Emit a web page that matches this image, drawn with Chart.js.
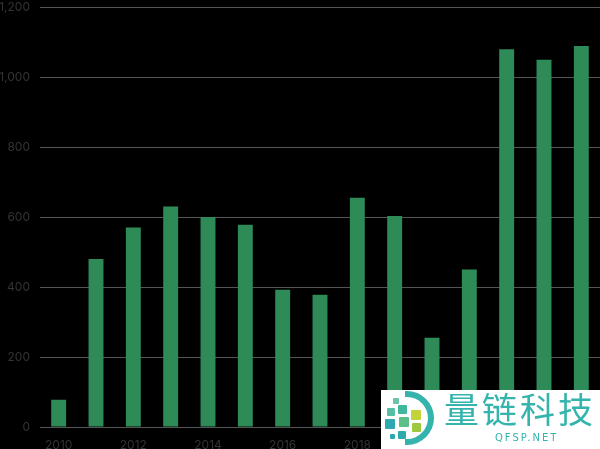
<!DOCTYPE html>
<html>
<head>
<meta charset="utf-8">
<script src="https://cdn.jsdelivr.net/npm/chart.js@4"></script>
<style>
  html, body { margin: 0; padding: 0; background: #000; }
  #wrap { position: relative; width: 600px; height: 449px; overflow: hidden; }
  #chart { position: absolute; left: 0; top: -10px; }
  #mark {
    position: absolute; left: 381px; top: 390px; width: 219px; height: 59px;
    background: #fff; font-family: "Noto Sans CJK SC", sans-serif;
  }
  #mark .cn { position: absolute; left: 63px; top: -4px; font-size: 35px; line-height: 44px; color: #34b4ad; letter-spacing: 3px; white-space: nowrap; }
  #mark .en { position: absolute; left: 114px; top: 42px; font-size: 10px; line-height: 12px; color: #34b4ad; letter-spacing: 2px; font-family: "DejaVu Sans", sans-serif; }
  #mark .sq { position: absolute; border-radius: 1px; }
</style>
</head>
<body>
<div id="wrap">
  <canvas id="chart" width="600" height="459"></canvas>
  <div id="mark">
    <div class="sq" style="left:12px;top:8px;width:6px;height:6px;background:#6cc3a8"></div>
    <div class="sq" style="left:6px;top:18px;width:8px;height:8px;background:#55bfa5"></div>
    <div class="sq" style="left:17px;top:15px;width:9px;height:9px;background:#3fb79c"></div>
    <div class="sq" style="left:4px;top:29px;width:10px;height:10px;background:#2fa9b0"></div>
    <div class="sq" style="left:18px;top:27px;width:10px;height:10px;background:#5cbf8a"></div>
    <div class="sq" style="left:30px;top:20px;width:10px;height:10px;background:#c3d43a"></div>
    <div class="sq" style="left:31px;top:33px;width:9px;height:9px;background:#9cc93f"></div>
    <div class="sq" style="left:17px;top:41px;width:8px;height:8px;background:#2fa9b0"></div>
    <div class="sq" style="left:9px;top:44px;width:5px;height:5px;background:#2fa9b0"></div>
    <div class="sq" style="left:24px;top:1px;width:29px;height:54px;border:6px solid #34b4ad;border-left:none;border-radius:0 28px 28px 0;box-sizing:border-box"></div>
    <div class="cn">量链科技</div>
    <div class="en">QFSP.NET</div>
  </div>
</div>
<script>
// Data
const years = ['2010', '2011', '2012', '2013', '2014', '2015', '2016', '2017',
               '2018', '2019', '2020', '2021', '2022', '2023', '2024'];
const values = [78, 480, 570, 630, 600, 578, 392, 378, 655, 603, 255, 450, 1080, 1050, 1089];
const yTicks = [0, 200, 400, 600, 800, 1000, 1200];

const ctx = document.getElementById('chart').getContext('2d');
new Chart(ctx, {
    type: 'bar',
    data: {
        labels: years,
        datasets: [{
            data: values,
            backgroundColor: '#2e8b57',
            borderWidth: 0,
            barPercentage: 0.4,
            categoryPercentage: 1.0
        }]
    },
    options: {
        responsive: false,
        animation: false,
        plugins: {
            legend: { display: false },
            tooltip: { enabled: false }
        },
        scales: {
            x: {
                grid: { display: false },
                border: { color: '#555', width: 1 },
                afterFit: function (axis) { axis.height = 22; },
                ticks: {
                    color: '#333',
                    font: { family: 'Inter', size: 12 },
                    autoSkip: false,
                    maxRotation: 0,
                    padding: 3,
                    callback: function (val, i) { return i % 2 === 0 ? years[i] : ''; }
                }
            },
            y: {
                min: 0,
                max: 1200,
                afterBuildTicks: function (axis) { axis.ticks = yTicks.map(v => ({ value: v })); },
                afterFit: function (axis) { axis.width = 40; },
                grid: { color: '#555', lineWidth: 1, drawTicks: false },
                border: { display: false },
                ticks: {
                    color: '#333',
                    font: { family: 'Inter', size: 12 },
                    padding: 10,
                    callback: function (v) { return v.toLocaleString('en-US'); }
                }
            }
        }
    }
});
</script>
</body>
</html>
